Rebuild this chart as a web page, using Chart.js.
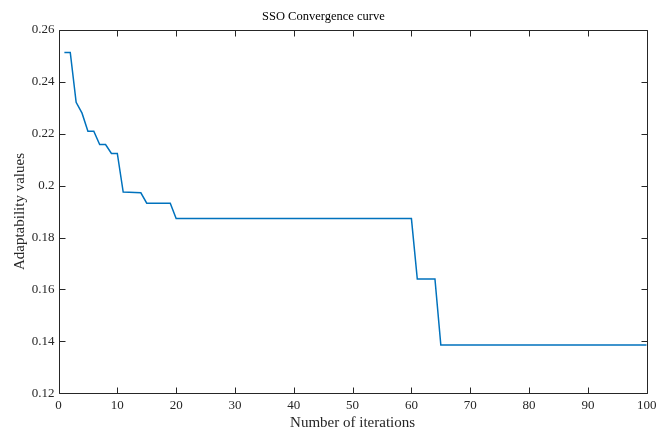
<!DOCTYPE html>
<html lang="en">
<head>
    <meta charset="UTF-8">
    <title>SSO Convergence curve</title>
    <script src="https://cdn.jsdelivr.net/npm/chart.js"></script>
    <style>
        body { margin: 0; background: #fff; }
        #wrap { width: 657px; height: 432px; position: relative; }
    </style>
</head>
<body>
    <div id="wrap">
        <canvas id="myChart"></canvas>
    </div>

    <script>
        // Breakpoints of the convergence curve (flat between them)
        const iterations = [1, 2, 3, 4, 5, 6, 7, 8, 9, 10, 11, 12, 13, 14, 15, 19, 20, 60, 61, 64, 65, 100];
        const fitness = [0.2513, 0.2513, 0.2321, 0.2279, 0.2209, 0.2209, 0.2158, 0.2158, 0.2124, 0.2124,
                         0.1975, 0.1974, 0.1973, 0.1972, 0.1932, 0.1932, 0.1873, 0.1873, 0.1640, 0.1640,
                         0.1386, 0.1386];

        const xTicks = [0, 10, 20, 30, 40, 50, 60, 70, 80, 90, 100];
        const yTicks = [0.12, 0.14, 0.16, 0.18, 0.2, 0.22, 0.24, 0.26];

        const axisColor = '#262626';
        const fontFamily = "'Liberation Serif', 'DejaVu Serif', serif";

        // MATLAB style box with inward ticks on all four sides
        const boxTicks = {
            id: 'boxTicks',
            afterDatasetsDraw(chart) {
                const { ctx, chartArea: a, scales } = chart;
                const len = 6;
                const l = Math.round(a.left) + 0.5, r = Math.round(a.right) + 0.5;
                const t = Math.round(a.top) + 0.5, b = Math.round(a.bottom) + 0.5;
                ctx.save();
                ctx.strokeStyle = axisColor;
                ctx.lineWidth = 1;
                ctx.beginPath();
                xTicks.forEach(v => {
                    const px = Math.round(scales.x.getPixelForValue(v)) + 0.5;
                    ctx.moveTo(px, b); ctx.lineTo(px, b - len);
                    ctx.moveTo(px, t); ctx.lineTo(px, t + len);
                });
                yTicks.forEach(v => {
                    const py = Math.round(scales.y.getPixelForValue(v)) + 0.5;
                    ctx.moveTo(l, py); ctx.lineTo(l + len, py);
                    ctx.moveTo(r, py); ctx.lineTo(r - len, py);
                });
                ctx.rect(l, t, r - l, b - t);
                ctx.stroke();
                ctx.restore();
            }
        };

        const ctx = document.getElementById('myChart').getContext('2d');
        const myChart = new Chart(ctx, {
            type: 'line',
            data: {
                datasets: [{
                    data: iterations.map((it, i) => ({ x: it, y: fitness[i] })),
                    borderColor: '#0072BD',
                    borderWidth: 1.5,
                    pointRadius: 0,
                    tension: 0,
                    fill: false
                }]
            },
            options: {
                responsive: true,
                maintainAspectRatio: false,
                animation: false,
                layout: { padding: { left: 0, right: 10.3, top: 0, bottom: 0 } },
                plugins: {
                    legend: { display: false },
                    tooltip: { enabled: false },
                    title: {
                        display: true,
                        text: 'SSO Convergence curve',
                        color: '#000',
                        font: { family: fontFamily, size: 12.5, weight: 'normal', lineHeight: 1 },
                        padding: { top: 10, bottom: 7.3 }
                    }
                },
                scales: {
                    x: {
                        type: 'linear',
                        min: 0,
                        max: 100,
                        afterBuildTicks: scale => { scale.ticks = xTicks.map(v => ({ value: v })); },
                        afterFit: scale => {
                            scale.height = 38.7;
                            scale.paddingLeft = 0;
                            scale.paddingRight = 0;
                        },
                        grid: { display: false, drawTicks: false },
                        border: { display: false },
                        ticks: {
                            color: axisColor,
                            padding: 4,
                            maxRotation: 0,
                            font: { family: fontFamily, size: 13 }
                        },
                        title: {
                            display: true,
                            text: 'Number of iterations',
                            color: axisColor,
                            font: { family: fontFamily, size: 15 },
                            padding: { top: 1, bottom: 0 }
                        }
                    },
                    y: {
                        min: 0.12,
                        max: 0.26,
                        afterBuildTicks: scale => { scale.ticks = yTicks.map(v => ({ value: v })); },
                        afterFit: scale => {
                            scale.width = 58.5;
                            scale.paddingTop = 0;
                            scale.paddingBottom = 0;
                        },
                        grid: { display: false, drawTicks: false },
                        border: { display: false },
                        ticks: {
                            color: axisColor,
                            padding: 4,
                            font: { family: fontFamily, size: 13 },
                            callback: v => String(+v.toFixed(2))
                        },
                        title: {
                            display: true,
                            text: 'Adaptability values',
                            color: axisColor,
                            font: { family: fontFamily, size: 15 },
                            padding: { top: 11, bottom: 0 }
                        }
                    }
                }
            },
            plugins: [boxTicks]
        });
    </script>
</body>
</html>
